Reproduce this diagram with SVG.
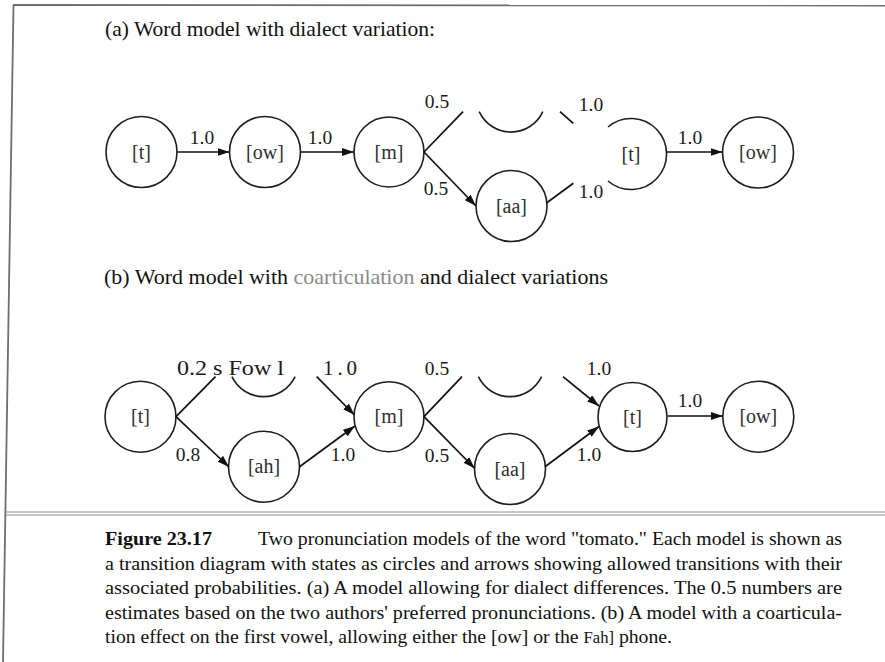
<svg xmlns="http://www.w3.org/2000/svg" width="885" height="662" viewBox="0 0 885 662">
<style>
  .node circle, .node path { fill: none; stroke: #1e1e1e; stroke-width: 1.6; }
  .nl { font-family: "Liberation Serif", "Times New Roman", serif; font-size: 20px; fill: #2e2e2e; text-anchor: middle; }
  .el { font-family: "Liberation Serif", "Times New Roman", serif; font-size: 19.5px; fill: #1a1a1a; text-anchor: middle; }
  .title { font-family: "Liberation Serif", "Times New Roman", serif; font-size: 21px; fill: #111; }
  .cap { font-family: "Liberation Serif", "Times New Roman", serif; font-size: 19px; fill: #111; }
  .conn line { stroke: #111; stroke-width: 1.7; fill: none; }
  .arr { marker-end: url(#ah); }
  .frame { stroke: #6e6e6e; stroke-width: 1.8; fill: none; }
  .sep { stroke: #909090; stroke-width: 1.2; fill: none; }
</style>
<defs>
  <marker id="ah" viewBox="0 0 12 8" refX="12" refY="4" markerWidth="12" markerHeight="8" markerUnits="userSpaceOnUse" orient="auto">
    <path d="M0,0 L12,4 L0,8 z" fill="#111"/>
  </marker>
</defs>
<rect width="885" height="662" fill="#fff"/>

<!-- frame -->
<line class="frame" x1="13" y1="5" x2="885" y2="5.5"/>
<line class="frame" x1="13.5" y1="5" x2="3" y2="662"/>
<line class="sep" x1="4" y1="512" x2="885" y2="512"/>
<line class="sep" x1="4" y1="515" x2="885" y2="515"/>

<text class="title" x="105" y="35.5" textLength="330" lengthAdjust="spacingAndGlyphs">(a) Word model with dialect variation:</text>
<text class="title" x="104" y="284" textLength="504" lengthAdjust="spacingAndGlyphs">(b) Word model with <tspan fill="#8a8a8a">coarticulation</tspan> and dialect variations</text>

<!-- ===== (a) nodes ===== -->
<g id="a-t1" class="node"><circle cx="141.5" cy="152" r="35.5"/><text class="nl" x="141.5" y="158.5">[t]</text></g>
<g id="a-ow1" class="node"><circle cx="265" cy="152" r="35.5"/><text class="nl" x="265" y="158.5">[ow]</text></g>
<g id="a-m" class="node"><circle cx="389" cy="152" r="35"/><text class="nl" x="389" y="158.5">[m]</text></g>
<g id="a-top" class="node"><path d="M479.2,111.7 A35,35 0 0 0 542.8,111.7"/></g>
<g id="a-aa" class="node"><circle cx="511.5" cy="206" r="35.5"/><text class="nl" x="511.5" y="212.5">[aa]</text></g>
<g id="a-t2" class="node"><path d="M608,127 A35.5,35.5 0 1 1 608,181"/><text class="nl" x="631" y="160.5">[t]</text></g>
<g id="a-ow2" class="node"><circle cx="758" cy="152.5" r="35.5"/><text class="nl" x="758" y="159">[ow]</text></g>

<!-- ===== (b) nodes ===== -->
<g id="b-t1" class="node"><circle cx="140.5" cy="416.7" r="35.5"/><text class="nl" x="140.5" y="423">[t]</text></g>
<g id="b-top1" class="node"><path d="M231.9,376.7 A35,35 0 0 0 295.1,376.7"/></g>
<g id="b-ah" class="node"><circle cx="264" cy="466.7" r="35.5"/><text class="nl" x="264" y="473">[ah]</text></g>
<g id="b-m" class="node"><circle cx="389" cy="416.7" r="35"/><text class="nl" x="389" y="423">[m]</text></g>
<g id="b-top2" class="node"><path d="M478.4,376.7 A35,35 0 0 0 541.6,376.7"/></g>
<g id="b-aa" class="node"><circle cx="510" cy="469" r="35.5"/><text class="nl" x="510" y="475.5">[aa]</text></g>
<g id="b-t2" class="node"><circle cx="632.5" cy="417" r="34.5"/><text class="nl" x="632.5" y="423.5">[t]</text></g>
<g id="b-ow" class="node"><circle cx="758.3" cy="416.7" r="35.5"/><text class="nl" x="758.3" y="423">[ow]</text></g>

<!-- ===== connectors ===== -->
<g id="connectors" class="conn">
  <!-- (a) -->
  <line class="arr" x1="177" y1="152" x2="229.5" y2="152"/>
  <line class="arr" x1="300.5" y1="152" x2="354" y2="152"/>
  <line x1="424" y1="152" x2="463" y2="111.7"/>
  <line class="arr" x1="424" y1="152" x2="476" y2="206"/>
  <line x1="560" y1="111.7" x2="573.3" y2="123.3"/>
  <line x1="546.5" y1="203" x2="573.3" y2="183.3"/>
  <line class="arr" x1="666.5" y1="152" x2="722.5" y2="152"/>
  <!-- (b) -->
  <line x1="176" y1="416.7" x2="215.5" y2="376.7"/>
  <line class="arr" x1="176" y1="416.7" x2="229" y2="467"/>
  <line class="arr" x1="316.7" y1="376.7" x2="354.5" y2="415"/>
  <line class="arr" x1="299.5" y1="466.7" x2="355" y2="426"/>
  <line x1="424" y1="416.7" x2="462" y2="376.7"/>
  <line class="arr" x1="424" y1="416.7" x2="474.8" y2="468.5"/>
  <line class="arr" x1="563" y1="376.7" x2="599" y2="406"/>
  <line class="arr" x1="545" y1="466.7" x2="599" y2="426.5"/>
  <line class="arr" x1="667.5" y1="416" x2="723" y2="416"/>
</g>

<!-- edge labels -->
<g id="edge-labels">
  <text class="el" x="202" y="144">1.0</text>
  <text class="el" x="320" y="144">1.0</text>
  <text class="el" x="437" y="108">0.5</text>
  <text class="el" x="436" y="195">0.5</text>
  <text class="el" x="591" y="110.5">1.0</text>
  <text class="el" x="591" y="198">1.0</text>
  <text class="el" x="690" y="144">1.0</text>

  <text class="el" x="177" y="375" style="text-anchor:start;font-size:21px" textLength="107" lengthAdjust="spacingAndGlyphs">0.2 s Fow l</text>
  <text class="el" x="323" y="375" style="text-anchor:start;font-size:21px" textLength="34" lengthAdjust="spacing">1.0</text>
  <text class="el" x="437" y="375">0.5</text>
  <text class="el" x="599" y="375">1.0</text>
  <text class="el" x="188" y="460.7">0.8</text>
  <text class="el" x="343" y="460.7">1.0</text>
  <text class="el" x="437" y="461.7">0.5</text>
  <text class="el" x="589" y="460.7">1.0</text>
  <text class="el" x="690" y="407.3">1.0</text>
</g>

<!-- caption -->
<g id="caption">
  <text class="cap" x="105" y="545" font-weight="bold" textLength="107" lengthAdjust="spacingAndGlyphs">Figure 23.17</text>
  <text class="cap" x="258" y="545" textLength="584" lengthAdjust="spacingAndGlyphs">Two pronunciation models of the word "tomato." Each model is shown as</text>
  <text class="cap" x="105" y="569.5" textLength="737" lengthAdjust="spacingAndGlyphs">a transition diagram with states as circles and arrows showing allowed transitions with their</text>
  <text class="cap" x="105" y="594" textLength="737" lengthAdjust="spacingAndGlyphs">associated probabilities. (a) A model allowing for dialect differences. The 0.5 numbers are</text>
  <text class="cap" x="105" y="618.5" textLength="737" lengthAdjust="spacingAndGlyphs">estimates based on the two authors' preferred pronunciations. (b) A model with a coarticula-</text>
  <text class="cap" x="105" y="643" textLength="567" lengthAdjust="spacingAndGlyphs">tion effect on the first vowel, allowing either the [ow] or the <tspan font-size="16">Fah]</tspan> phone.</text>
</g>
</svg>
